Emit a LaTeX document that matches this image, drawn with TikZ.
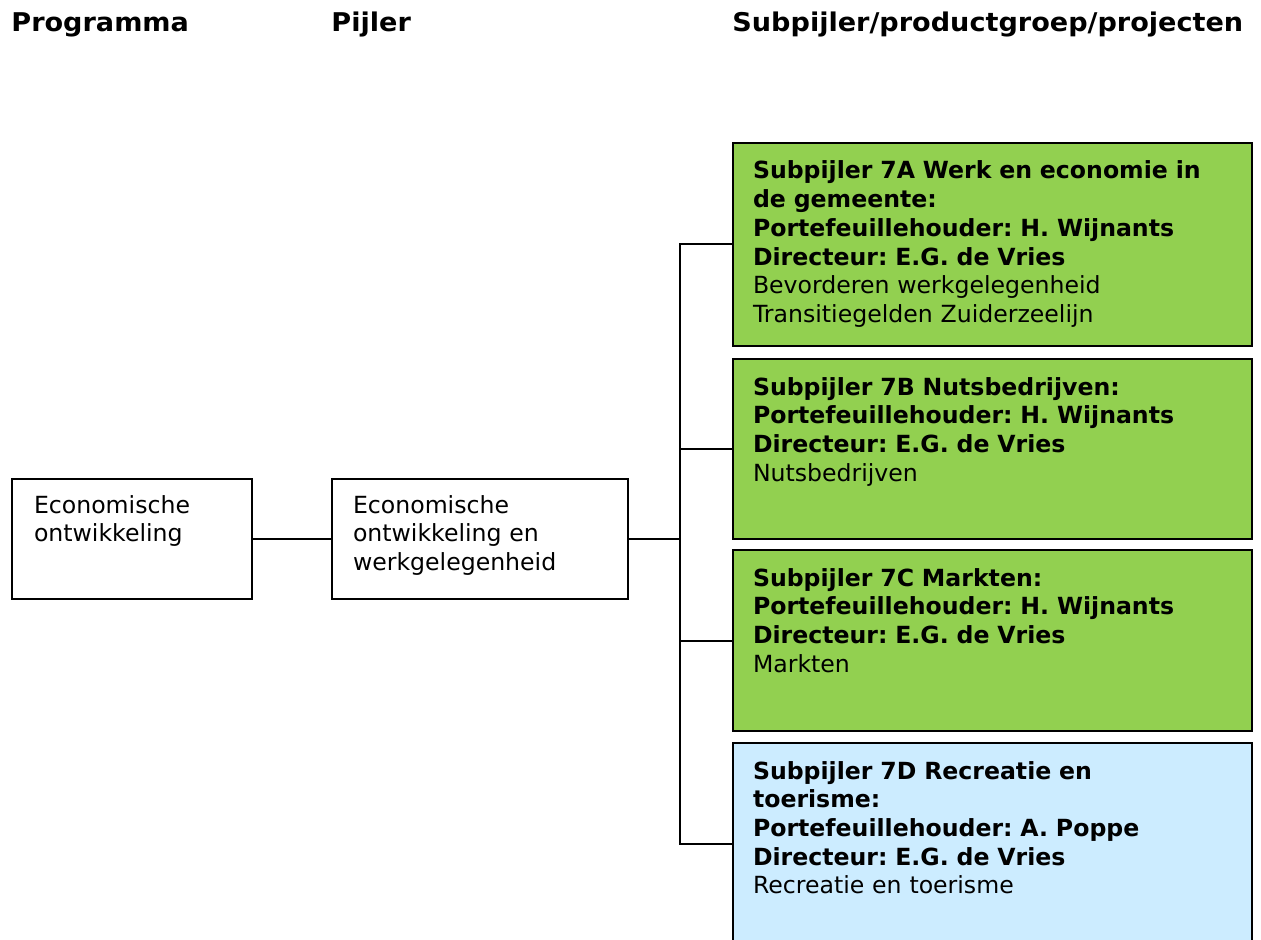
\documentclass[tikz,border=0pt]{standalone}
\usepackage{fontspec}
\setmainfont{DejaVu Sans}
\newfontfamily\headface{DejaVu Sans}[FakeStretch=1.05]
\usetikzlibrary{positioning}
\definecolor{subgreen}{HTML}{92D050}
\definecolor{subblue}{HTML}{CCECFF}
\newcommand{\orgfont}{\fontsize{11.8pt}{14.35pt}\selectfont}
\newcommand{\headfont}{\headface\fontsize{12.9pt}{16pt}\selectfont\bfseries}
\frenchspacing
\tikzset{
  orgbox/.style={draw=black,line width=1pt,anchor=north west,align=left,
                 inner xsep=10.5pt,inner ysep=8pt,text height=9pt,
                 font=\orgfont},
  subbox/.style={orgbox,text width=239.5pt,inner xsep=10pt,inner ysep=9pt},
  head/.style={anchor=base west,inner sep=0pt,font=\headfont},
  link/.style={line width=1pt,draw=black}
}

\begin{document}
\begin{tikzpicture}[x=0.5pt,y=-0.5pt]
    \path[use as bounding box] (0,0) rectangle (1261,940);

    \node[head] (hprog) at (11,32) {Programma};
    \node[head] (hpij) at (331,32) {Pijler};
    \node[head] (hsub) at (732,32) {Subpijler/productgroep/projecten};

    \node[orgbox,text width=98pt,text depth=35pt,inner xsep=11pt] (prog)
      at (11,478) {Economische\\ontwikkeling};
    \node[orgbox,text width=127pt,text depth=35pt] (pij) at (331,478)
      {Economische\\ontwikkeling en\\werkgelegenheid};

    \node[subbox,fill=subgreen,text depth=74.5pt] (sa) at (732,142)
      {\textbf{Subpijler 7A Werk en economie in}\\
       \textbf{de gemeente:}\\
       \textbf{Portefeuillehouder: H. Wijnants}\\
       \textbf{Directeur: E.G. de Vries}\\
       Bevorderen werkgelegenheid\\
       Transitiegelden Zuiderzeelijn};
    \node[subbox,fill=subgreen,text depth=63pt] (sb) at (732,358)
      {\textbf{Subpijler 7B Nutsbedrijven:}\\
       \textbf{Portefeuillehouder: H. Wijnants}\\
       \textbf{Directeur: E.G. de Vries}\\
       Nutsbedrijven};
    \node[subbox,fill=subgreen,text depth=63.5pt] (sc) at (732,549)
      {\textbf{Subpijler 7C Markten:}\\
       \textbf{Portefeuillehouder: H. Wijnants}\\
       \textbf{Directeur: E.G. de Vries}\\
       Markten};
    \node[subbox,fill=subblue,text depth=74pt] (sd) at (732,742)
      {\textbf{Subpijler 7D Recreatie en}\\
       \textbf{toerisme:}\\
       \textbf{Portefeuillehouder: A. Poppe}\\
       \textbf{Directeur: E.G. de Vries}\\
       Recreatie en toerisme};

    % connectors
    \coordinate (tk) at (pij.east -| 680,0);
    \draw[link] (prog) -- (pij);
    \draw[link] (pij.east) -- (tk);
    \draw[link] (sa.west) -| (tk);
    \draw[link] (sb.west) -| (tk);
    \draw[link] (sc.west) -| (tk);
    \draw[link] (sd.west) -| (tk);
\end{tikzpicture}
\end{document}
